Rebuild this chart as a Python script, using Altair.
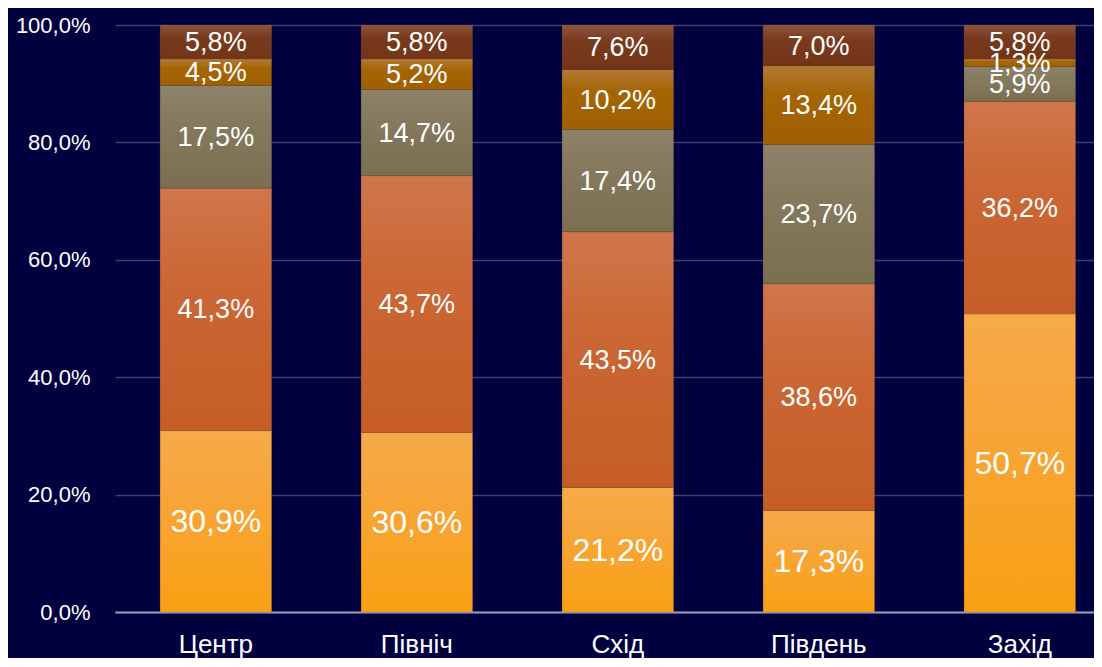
import altair as alt
import pandas as pd

# ---- data ----
regions = ["Центр", "Північ", "Схід", "Південь", "Захід"]
series_names = ["Група 1", "Група 2", "Група 3", "Група 4", "Група 5"]  # bottom -> top
s1 = [30.9, 30.6, 21.2, 17.3, 50.7]
s2 = [41.3, 43.7, 43.5, 38.6, 36.2]
s3 = [17.5, 14.7, 17.4, 23.7, 5.9]
s4 = [4.5, 5.2, 10.2, 13.4, 1.3]
s5 = [5.8, 5.8, 7.6, 7.0, 5.8]
all_series = [s1, s2, s3, s4, s5]
y_ticks = [0, 0.2, 0.4, 0.6, 0.8, 1.0]

rows = []
for k, (name, vals) in enumerate(zip(series_names, all_series), start=1):
    for r, v in zip(regions, vals):
        rows.append({"region": r, "series": name, "order": k, "value": v})
df = pd.DataFrame(rows)

# gradients (top colour -> bottom colour) per series
grad_colors = [
    ("#F6AB48", "#F7A53A", "#F9A013"),
    ("#D0764C", "#CB6836", "#C65D26"),
    ("#8E826A", "#857A5E", "#7B6F50"),
    ("#B27A35", "#A56505", "#A05F00"),
    ("#8E5440", "#7A3A1E", "#743417"),
]

FONT = "Liberation Sans, Arial, sans-serif"

x_enc = alt.X(
    "region:N",
    sort=regions,
    scale=alt.Scale(paddingInner=0.445, paddingOuter=0.158, align=0.71),
    axis=alt.Axis(
        title=None,
        labelAngle=0,
        labelFontSize=26,
        labelColor="#FFFFFF",
        labelFont=FONT,
        labelPadding=19,
        ticks=False,
        tickSize=0,
        domain=True,
        domainColor="#9A9AB8",
        domainWidth=2,
        grid=False,
    ),
)

y_axis = alt.Axis(
    title=None,
    values=y_ticks,
    labelExpr="replace(format(datum.value, '.1%'), '.', ',')",
    labelFontSize=22,
    labelColor="#FFFFFF",
    labelFont=FONT,
    labelPadding=25,
    ticks=False,
    tickSize=0,
    domain=False,
    grid=True,
    gridColor="#3E3E70",
    gridWidth=1.5,
)

base = alt.Chart(df).transform_stack(
    stack="value",
    groupby=["region"],
    as_=["y0", "y1"],
    sort=[alt.SortField("order", "ascending")],
    offset="normalize",
)

layers = []
for k, (c_top, c_mid, c_bot) in enumerate(grad_colors, start=1):
    grad = alt.LinearGradient(
        gradient="linear",
        x1=0, y1=0, x2=0, y2=1,
        stops=[
            alt.GradientStop(offset=0, color=c_top),
            alt.GradientStop(offset=0.35, color=c_mid),
            alt.GradientStop(offset=1, color=c_bot),
        ],
    )
    layer = (
        base.transform_filter(alt.datum.order == k)
        .mark_bar(color=grad, stroke="#6A5A50", strokeWidth=0.5, strokeOpacity=0.4)
        .encode(
            x=x_enc,
            y=alt.Y("y0:Q", scale=alt.Scale(domain=[0, 1]), axis=y_axis),
            y2="y1:Q",
        )
    )
    layers.append(layer)

labels = (
    base.transform_calculate(
        mid="(datum.y0 + datum.y1) / 2",
        label="replace(format(datum.value, '.1f'), '.', ',') + '%'",
    )
    .mark_text(color="#FFFFFF", font=FONT, baseline="middle", align="center", dy=1)
    .encode(
        x=x_enc,
        y=alt.Y("mid:Q", scale=alt.Scale(domain=[0, 1]), axis=y_axis),
        text="label:N",
        size=alt.condition(alt.datum.order == 1, alt.value(32), alt.value(27)),
    )
)

chart = (
    alt.layer(*layers, labels)
    .properties(
        width=979,
        height=587,
        autosize=alt.AutoSizeParams(type="none"),
        padding={"left": 107, "top": 17, "right": 0, "bottom": 46},
        background="#01013F",
    )
    .configure_view(stroke=None)
)

chart.save("out.html", embed_options={"renderer": "svg", "actions": False})
